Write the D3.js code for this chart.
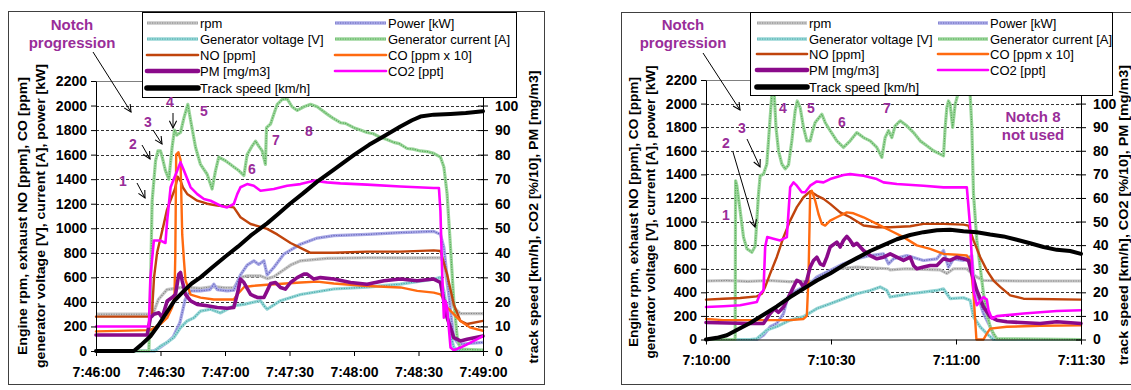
<!DOCTYPE html>
<html>
<head>
<meta charset="utf-8">
<script src="https://cdn.jsdelivr.net/npm/d3@7"></script>
<style>
  html, body { margin: 0; padding: 0; background: #fff; }
  svg { display: block; }
</style>
</head>
<body>
<svg id="chart" width="1131" height="390"></svg>
<script>
// ---------------- data ----------------
// Time is in seconds from the start of each run; left-axis series in their own
// units (0-2200 scale), right-axis series (PM, CO2, speed) on the 0-110 scale.

const primaryTicks = [0, 200, 400, 600, 800, 1000, 1200, 1400, 1600, 1800, 2000, 2200];
const secondaryTicks = [0, 10, 20, 30, 40, 50, 60, 70, 80, 90, 100];

const run1TimeTicks = [0, 30, 60, 90, 120, 150, 180];
const run1TimeLabels = ["7:46:00", "7:46:30", "7:47:00", "7:47:30", "7:48:00", "7:48:30", "7:49:00"];
const run2TimeTicks = [0, 30, 60, 90];
const run2TimeLabels = ["7:10:00", "7:10:30", "7:11:00", "7:11:30"];

const seriesKeys = ["rpm", "power", "voltage", "current", "no", "co", "pm", "co2", "speed"];
const seriesLabels = ["rpm", "Power [kW]", "Generator voltage [V]", "Generator current [A]",
  "NO [ppm]", "CO [ppm x 10]", "PM [mg/m3]", "CO2 [ppt]", "Track speed [km/h]"];
const secondarySeries = ["pm", "co2", "speed"];

// ---- run 1 (7:46 - 7:49) ----
const run1Rpm = [[0,300],[25,300],[26.5,300],[29,420],[33,500],[40.9,520],[48.6,510],[54.8,525],[60,515],[64.1,515],[67.2,600],[70.3,612],[76.5,612],[79.6,590],[82.7,605],[90.5,700],[95.1,735],[107.5,755],[126.1,760],[145,758],[160.2,760],[161.8,720],[164.1,460],[166.4,355],[169.5,305],[180,305]];
const run1Power = [[0,0],[26.9,0],[29.8,30],[33.1,70],[35.9,115],[39,230],[41.4,415],[43.7,490],[48.6,490],[53,500],[54.8,545],[56.4,500],[61,490],[64.1,495],[67.2,620],[70.3,700],[73.4,735],[75.7,705],[78.1,735],[79.6,620],[82.7,680],[87.4,790],[95.1,870],[102.9,920],[110.6,940],[126.1,950],[141.6,965],[157.1,975],[160.2,950],[161.8,845],[163.3,600],[164.9,325],[166.4,110],[168.8,55],[180,70]];
const run1Voltage = [[0,0],[27.4,0],[30,40],[33.1,70],[36.2,110],[39.3,190],[42.4,245],[45.5,270],[48.6,325],[53.3,340],[57.9,310],[61,340],[64.1,370],[68.8,380],[76.5,410],[78.1,370],[79.6,340],[85.8,410],[95.1,460],[110.6,505],[126.1,520],[141.6,545],[157.1,585],[160.2,600],[161.8,490],[163.3,325],[164.9,135],[166.4,30],[168,5],[180,5]];
const run1Current = [[0,0],[24.6,0],[25.3,460],[26.1,1220],[27.7,1550],[28.8,1630],[30,1630],[30.8,1580],[32.3,1470],[33.9,1400],[35.4,1660],[36.5,1800],[37.6,1760],[39.3,1780],[40.9,1900],[42.7,2010],[44,1880],[46.3,1660],[48.6,1520],[51.7,1440],[54,1320],[55.6,1470],[57.1,1580],[60.2,1550],[62.6,1520],[64.1,1500],[66.4,1470],[68.8,1430],[70.3,1600],[72.6,1670],[74.2,1710],[75.7,1670],[77.3,1630],[78.8,1520],[79.3,1820],[81.2,1850],[82.7,1930],[84.3,2010],[86.6,2050],[88.9,2055],[91.2,1990],[93.6,1960],[96.7,1990],[99.8,2010],[102.9,1990],[107.5,1930],[110,1900],[113.7,1860],[116,1855],[119.9,1820],[123,1800],[126.1,1780],[129,1770],[132.3,1740],[135,1725],[138.5,1700],[141,1690],[144.7,1650],[147.5,1645],[150.9,1630],[154,1625],[157.1,1610],[160.2,1580],[161.8,1500],[163.3,1280],[164.9,840],[166.4,410],[168,110],[169.5,15],[180,8]];
const run1NO = [[0,280],[26.1,280],[26.3,390],[27,600],[28.4,800],[29.8,905],[31.6,1040],[33,1150],[34.7,1230],[36.7,1320],[38,1420],[39.5,1380],[40.5,1330],[42.4,1280],[47.1,1225],[51.7,1200],[56.4,1185],[64.1,1170],[67.2,1090],[71.9,1035],[79.6,995],[84.3,950],[90.5,880],[95.1,840],[99.8,800],[110.6,800],[126.1,810],[141.6,810],[157.1,820],[160.2,815],[163.3,625],[166.4,380],[169.5,245],[172.6,220],[180,245]];
const run1CO = [[0,160],[25.3,170],[30,220],[33.1,270],[35.4,355],[36.5,440],[36.9,800],[37.3,1600],[38.3,1620],[39.3,1560],[40.1,950],[40.9,740],[41.6,580],[44,460],[48.6,435],[54.8,420],[64.1,420],[65.7,460],[68.8,520],[72.6,530],[79.6,540],[95.1,558],[102.9,565],[110.6,550],[126.1,530],[141.6,518],[149.4,490],[157.1,476],[160.2,462],[161.8,420],[163.3,355],[166.4,300],[169.5,245],[174.2,190],[180,165]];
const run1PM = [[0,6.5],[23.8,6.5],[25.3,13.6],[26.9,15],[29.2,15.6],[30.8,13.6],[33.1,20.4],[35.4,21.8],[37,23.1],[38.5,31.3],[39.3,32],[40.1,28.6],[41.6,23.1],[44,20.4],[47.1,19],[51.7,18.4],[56.4,17.7],[61,17.4],[64.1,17.7],[65.7,23.1],[67.2,29.3],[68.8,27.9],[71.9,23.1],[75,21.8],[78.1,21.8],[79.6,24.5],[81.2,27.5],[83.5,27.9],[85.8,25.9],[88.1,25.2],[90.5,27.9],[93.6,29.9],[96.7,31.3],[98.2,31.3],[101.3,29.3],[104.4,29.9],[110.6,29.3],[118.4,27.9],[126.1,27.2],[133.9,28.6],[141.6,29.3],[149.4,28.6],[157.1,29.3],[160.2,27.9],[161.8,20.4],[163.3,13.6],[164.9,9.5],[166.4,5.4],[169.5,4.1],[172.6,4.8],[180,6.1]];
const run1CO2 = [[0,10],[24.6,10],[25.3,30],[26.9,45],[30,45],[32.3,44],[33.1,53.1],[34.7,66.7],[36.2,70.1],[37.8,73.5],[39.3,76.9],[40.9,73.5],[44,66.7],[47.1,63.9],[50.2,61.9],[53.3,61.2],[57.9,59.2],[61,58.5],[64.1,59.9],[65.7,63.9],[67.2,66.7],[70.3,68],[73.4,67.3],[76.5,65.3],[82.7,66],[88.9,67.3],[95.1,68],[101.3,69.4],[107.5,68.7],[113.7,68.3],[126.1,67.8],[141.6,67],[157.1,66.4],[159.5,66.4],[160.2,57.1],[161,32],[161.8,13.6],[162.6,20.4],[163.3,17.7],[164.9,1.4],[166.4,0.3],[169.5,1.4],[172.6,2.7],[180,6.1]];
const run1Speed = [[0,0],[17.6,0],[21,2.5],[25.3,6],[29,10.5],[33.1,16],[36.5,20.5],[40.9,24.5],[44.5,27.5],[48.6,30],[54,34],[60.2,38.5],[66,42.5],[71.9,47],[79.6,52],[85,56],[90.2,60],[96,64],[102.9,69],[110,73.5],[120.2,80],[127,84],[133.9,87.5],[141.6,91.5],[147,94],[150.9,95.5],[157.1,96.3],[164.9,96.6],[172,97],[180,97.7]];

// ---- run 2 (7:10 - 7:11:30) ----
const run2Rpm = [[0,496],[5,500],[10,492],[15,500],[20,490],[26.6,496],[29,558],[31.4,600],[36.2,614],[43.8,600],[44.2,590],[48,600],[52.2,594],[56.2,590],[57.8,560],[59.4,600],[62.6,600],[63.8,560],[65,530],[66.6,500],[75,496],[90,496]];
const run2Power = [[0,0],[12.2,0],[13.8,36],[15.4,108],[17,136],[18.6,220],[19.4,332],[20.2,388],[21.8,416],[23.4,446],[25,474],[26.6,530],[29.8,586],[33,642],[36.2,684],[39.4,712],[42.6,726],[43.8,642],[45,684],[48.2,712],[52.2,670],[55.4,684],[57,754],[58.2,614],[59.4,684],[61.8,670],[63.8,712],[64.2,530],[65,388],[66.6,220],[68.2,108],[69,40],[69.8,0],[90,0]];
const run2Voltage = [[0,0],[10.6,0],[12.2,6],[14.6,80],[17,110],[20.2,164],[23.4,194],[26.6,262],[29.8,304],[33,346],[36.2,388],[39.4,416],[41.8,446],[43.4,416],[44.2,360],[45.8,370],[49,388],[52.2,402],[55.4,416],[57,430],[57.8,388],[58.6,346],[61.8,354],[63.4,332],[64.2,192],[65.8,108],[67.4,50],[69,0],[90,0]];
const run2Current = [[0,0],[7,0],[7.1,1346],[7.4,1306],[8.2,1092],[9,868],[9.8,770],[11,740],[11.8,790],[12.2,1008],[12.6,1234],[13,1388],[13.8,1402],[14.6,1488],[15.4,1882],[15.8,2078],[16.2,2200],[16.8,1798],[17.4,1600],[18.2,1488],[19,1446],[19.8,1480],[20.6,1684],[21.4,1938],[21.9,2022],[22.6,1966],[23.4,1798],[24.2,1684],[25,1684],[25.6,1770],[26.2,1840],[27.8,1910],[28.6,1840],[29.8,1770],[31.4,1684],[33,1628],[34.6,1684],[36.2,1754],[37.8,1712],[39.4,1684],[41,1628],[42.2,1544],[43,1712],[43.8,1770],[44.6,1712],[45.4,1812],[46.6,1854],[48.2,1812],[49.8,1754],[51.4,1684],[53,1642],[54.6,1600],[56.2,1572],[57,1558],[57.4,1798],[57.8,1966],[58.2,2022],[58.6,1994],[59.2,1798],[59.8,1994],[60.6,2100],[61.8,2120],[63.4,2080],[63.8,1798],[64.2,1234],[65,840],[65.8,614],[66.6,388],[67.4,220],[68.2,108],[69,50],[69.8,8],[90,0]];
const run2NO = [[0,338],[4.2,346],[8.2,352],[12.2,366],[13.4,388],[14.2,446],[15.4,558],[17,700],[18.6,868],[20.2,1008],[21.8,1122],[23.4,1206],[25,1256],[26.6,1220],[28.2,1192],[29.8,1150],[32.2,1078],[34.6,1036],[37.8,966],[41,952],[44.2,952],[49,960],[52.2,980],[57,980],[61.8,974],[63,966],[64.2,840],[65.8,700],[67.4,586],[69,500],[70.6,446],[73,374],[76.2,346],[90,338]];
const run2CO = [[0,174],[4.2,164],[12.2,164],[20.2,164],[23.4,174],[24.2,200],[24.6,530],[25,1234],[25.4,1260],[26.2,1178],[27,1064],[27.8,980],[28.6,966],[29.8,1008],[31.4,1036],[33.8,1078],[35.4,1070],[37.8,1036],[41,980],[44.2,924],[47.4,868],[50.6,798],[53.8,768],[57,726],[60.2,718],[62.6,712],[63.4,670],[64.2,388],[64.9,0],[66.6,0],[67.4,50],[68.2,92],[72.2,108],[80.2,116],[90,120]];
const run2PM = [[0,7.2],[10.6,6.8],[13.8,6.8],[15.4,11],[16.4,13],[17.4,11.5],[18.6,13.8],[20.2,19.4],[21,22.3],[21.8,25.1],[22.6,24.4],[23.4,22.3],[24.2,25.1],[25,30.7],[25.8,33.5],[26.6,34.9],[27.4,32.1],[28.2,31.4],[29,34.9],[29.8,39.2],[31.4,41.3],[32.2,39.2],[33,42],[33.8,43.7],[34.6,42],[35.4,39.9],[36.2,40.8],[37.8,37.7],[39.4,35.6],[41,34.2],[42.6,34.9],[44.2,36.3],[45.8,34.9],[47.4,33.5],[49,34.9],[49.8,31.4],[50.6,30],[52.2,30.7],[53.8,31.4],[55.4,31.4],[57,34.2],[58.6,33.5],[60.2,34.9],[61.8,34.2],[63,33.5],[63.8,27.9],[65,20.8],[66.6,13.8],[68.2,9.6],[69.8,8.2],[72.2,7.5],[80.2,6.8],[84.2,7.5],[90,6.8]];
const run2CO2 = [[0,13.8],[4.2,14.1],[8.2,14.5],[12.2,15.9],[13,19.4],[13.8,20.8],[14.2,39.2],[14.7,43.4],[16.2,42.7],[17.8,42],[19.4,43.4],[20.2,64.5],[21,66.6],[21.8,65.2],[23,62.4],[23.8,62.4],[25,65.2],[26.6,67],[28.2,66.6],[29.8,68],[33,69.7],[34.6,70.1],[37.8,69.4],[41,68],[42.6,66.6],[45.8,65.9],[52.2,65.2],[57,64.5],[62.6,64.5],[63.4,47.6],[64.2,20.8],[65,14.5],[66.6,18],[67.4,16.9],[67.8,12.4],[68.6,8.9],[69.8,9.9],[76.2,11],[84.2,12.1],[90,12.4]];
const run2Speed = [[0,0],[2.6,0.7],[5,1.8],[7.4,4],[10.6,7],[13.8,10.5],[17,14],[20.2,18],[23.4,21.5],[26.6,25],[29.8,28],[33,31.5],[36.2,34.5],[39.4,37.5],[42.6,40],[45.8,42.5],[49,44.3],[52.2,45.5],[55.4,46.3],[58.6,46.5],[61.8,45.9],[65,45.5],[68.2,44.5],[71.4,43.7],[74.6,42.3],[77.8,40.8],[81,39.2],[84.2,38],[87.4,37.5],[90,36.3]];

// ---------------- styling ----------------
const FONT = "'Liberation Sans', Arial, Helvetica, sans-serif";
const NOTE = "#992d99";
const lineStyles = {
  rpm:     { base: "#c6c6c6", dot: "#868686", w: 3.2, hatch: true },
  power:   { base: "#aaaae6", dot: "#6464bc", w: 3.2, hatch: true },
  voltage: { base: "#98d6d6", dot: "#42a8a8", w: 3.2, hatch: true },
  current: { base: "#9cd69c", dot: "#54aa54", w: 3.2, hatch: true },
  no:      { color: "#c0440c", w: 2.4 },
  co:      { color: "#ff6a10", w: 2.4 },
  pm:      { color: "#8a0a8a", w: 3.6, legendW: 4.6 },
  co2:     { color: "#ff00ff", w: 2.6 },
  speed:   { color: "#000000", w: 4,   legendW: 5.6 }
};

const svg = d3.select("#chart");

const defs = svg.append("defs");
defs.append("marker")
  .attr("id", "vhead").attr("viewBox", "0 0 10 10")
  .attr("refX", 9).attr("refY", 5)
  .attr("markerWidth", 9).attr("markerHeight", 9)
  .attr("markerUnits", "userSpaceOnUse").attr("orient", "auto")
  .append("path").attr("d", "M1,1 L9,5 L1,9")
  .attr("fill", "none").attr("stroke", "#000").attr("stroke-width", 1.2);

function strokeLine(sel, key, wOverride) {
  const s = lineStyles[key];
  const w = wOverride || s.w;
  if (s.hatch) {
    sel.append("path").attr("d", sel.datum().d)
      .attr("fill", "none").attr("stroke", s.base).attr("stroke-width", w)
      .attr("stroke-linejoin", "round");
    sel.append("path").attr("d", sel.datum().d)
      .attr("fill", "none").attr("stroke", s.dot).attr("stroke-width", 1.1)
      .attr("stroke-dasharray", "1.2,1.3").attr("stroke-linejoin", "round");
  } else {
    sel.append("path").attr("d", sel.datum().d)
      .attr("fill", "none").attr("stroke", s.color).attr("stroke-width", w)
      .attr("stroke-linejoin", "round").attr("stroke-linecap", "round");
  }
}

function vText(g, x, cy, str, len, size) {
  g.append("text")
    .attr("transform", `translate(${x},${cy}) rotate(-90)`)
    .attr("text-anchor", "middle").attr("dy", "0.35em")
    .attr("textLength", len).attr("lengthAdjust", "spacingAndGlyphs")
    .style("font", `bold ${size}px ${FONT}`).attr("fill", "#000")
    .text(str);
}

function note(g, x, y, str, size) {
  g.append("text").attr("x", x).attr("y", y)
    .attr("text-anchor", "middle").attr("dy", "0.35em")
    .style("font", `bold ${size || 14}px ${FONT}`).attr("fill", NOTE)
    .text(str);
}

function arrow(g, a) {
  g.append("line")
    .attr("x1", a[0]).attr("y1", a[1]).attr("x2", a[2]).attr("y2", a[3])
    .attr("stroke", "#000").attr("stroke-width", 1)
    .attr("marker-end", "url(#vhead)");
}

function drawPanel(p, data) {
  const g = svg.append("g");

  // outer chart frame
  g.append("rect")
    .attr("x", p.frame[0] + 0.5).attr("y", p.frame[1] + 0.5)
    .attr("width", p.frame[2]).attr("height", p.frame[3])
    .attr("fill", "none").attr("stroke", "#404040").attr("stroke-width", 1);

  const x = d3.scaleLinear().domain([0, p.tMax]).range([p.x0, p.x1]);
  const yL = d3.scaleLinear().domain([0, 2200]).range([p.yBot, p.yTop]);
  const yR = d3.scaleLinear().domain([0, 110]).range([p.yBot, p.yTop]);

  // dashed horizontal gridlines
  g.append("g").selectAll("line")
    .data(primaryTicks.filter(v => v > 0 && v < 2200))
    .join("line")
    .attr("x1", p.x0).attr("x2", p.x1)
    .attr("y1", d => Math.round(yL(d)) + 0.5).attr("y2", d => Math.round(yL(d)) + 0.5)
    .attr("stroke", "#333").attr("stroke-width", 1).attr("stroke-dasharray", "3,2");

  // plot-area top edge
  g.append("line")
    .attr("x1", p.x0).attr("x2", p.x1)
    .attr("y1", Math.round(p.yTop) + 0.5).attr("y2", Math.round(p.yTop) + 0.5)
    .attr("stroke", "#808080");

  // series
  const lineL = d3.line().x(d => x(d[0])).y(d => yL(d[1]));
  const lineR = d3.line().x(d => x(d[0])).y(d => yR(d[1]));
  seriesKeys.forEach(k => {
    const gen = secondarySeries.includes(k) ? lineR : lineL;
    const sg = g.append("g").datum({ d: gen(data[k]) });
    strokeLine(sg, k);
  });

  // axes
  const tickFont = sel => sel.selectAll("text")
    .style("font", `bold 14px ${FONT}`).attr("fill", "#000");

  const axL = g.append("g").attr("transform", `translate(${p.x0},0)`)
    .call(d3.axisLeft(yL).tickValues(primaryTicks).tickFormat(d3.format("d"))
      .tickSize(5).tickSizeOuter(0).tickPadding(4));
  tickFont(axL);

  const axR = g.append("g").attr("transform", `translate(${p.x1},0)`)
    .call(d3.axisRight(yR).tickValues(secondaryTicks).tickFormat(d3.format("d"))
      .tickSize(5).tickSizeOuter(0).tickPadding(p.rPad));
  axR.selectAll(".tick line").attr("x1", -5);
  tickFont(axR);

  const axB = g.append("g").attr("transform", `translate(0,${p.yBot})`)
    .call(d3.axisBottom(x).tickValues(p.timeTicks).tickFormat((d, i) => p.timeLabels[i])
      .tickSize(5).tickSizeOuter(0).tickPadding(p.bPad));
  tickFont(axB);

  [axL, axR, axB].forEach(a => {
    a.select(".domain").attr("stroke", "#000");
    a.selectAll(".tick line").attr("stroke", "#000");
  });

  // axis titles
  vText(g, p.lt[0], p.lt[2], "Engine rpm, exhaust NO [ppm], CO [ppm]", p.lt[3], 13);
  vText(g, p.lt[1], p.lt[2], "generator voltage [V], current [A], power [kW]", p.lt[4], 13);
  vText(g, p.rt[0], p.rt[1], "track speed [km/h], CO2 [%/10], PM [mg/m3]", p.rt[2], 13);

  // legend
  const L = p.legend;
  const lg = g.append("g");
  lg.append("rect").attr("x", L.x + 0.5).attr("y", L.y + 0.5)
    .attr("width", L.w).attr("height", L.h)
    .attr("fill", "#fff").attr("stroke", "#000").attr("stroke-width", 1);
  seriesKeys.forEach((k, i) => {
    const col = i === 8 ? 0 : i % 2;
    const row = Math.floor(i / 2);
    const sx = col === 0 ? L.c1 : L.c2;
    const yy = L.rows[row];
    const s = lineStyles[k];
    const seg = d3.line()([[sx, yy], [sx + L.sw, yy]]);
    const sg = lg.append("g").datum({ d: seg });
    strokeLine(sg, k, s.legendW || (s.hatch ? 3.4 : 2.6));
    lg.append("text").attr("x", sx + L.sw + 2).attr("y", yy).attr("dy", "0.36em")
      .style("font", `13px ${FONT}`).attr("fill", "#000")
      .text(seriesLabels[i]);
  });

  // notch annotations
  note(g, p.title[0], p.title[1], "Notch", 15);
  note(g, p.title[0], p.title[1] + 18, "progression", 15);
  p.arrows.forEach(a => arrow(g, a));
  p.notes.forEach(n => note(g, n[0], n[1], n[2], n[3]));
}

const run1 = {
  rpm: run1Rpm, power: run1Power, voltage: run1Voltage, current: run1Current,
  no: run1NO, co: run1CO, pm: run1PM, co2: run1CO2, speed: run1Speed
};
const run2 = {
  rpm: run2Rpm, power: run2Power, voltage: run2Voltage, current: run2Current,
  no: run2NO, co: run2CO, pm: run2PM, co2: run2CO2, speed: run2Speed
};

drawPanel({
  frame: [8, 11, 536, 373],
  x0: 96, x1: 483, yTop: 81, yBot: 351, tMax: 180,
  timeTicks: run1TimeTicks, timeLabels: run1TimeLabels,
  rPad: 7, bPad: 11,
  lt: [22, 40, 216, 278, 304],
  rt: [533, 217, 293],
  legend: { x: 142, y: 12, w: 374, h: 85, c1: 147, c2: 335, sw: 51, rows: [23, 39, 55, 71, 88] },
  title: [72, 25],
  arrows: [[93, 52, 131, 112], [137, 183, 145, 198], [142, 145, 150, 159], [153, 130, 162, 144], [173, 113, 173, 128]],
  notes: [[123, 181, "1"], [133, 144, "2"], [148, 122, "3"], [170, 102, "4"], [204, 111, "5"],
          [252, 169, "6"], [276, 140, "7"], [309, 131, "8"]]
}, run1);

drawPanel({
  frame: [621, 12, 540, 372],
  x0: 706, x1: 1081, yTop: 80, yBot: 339.5, tMax: 90,
  timeTicks: run2TimeTicks, timeLabels: run2TimeLabels,
  rPad: 7, bPad: 11,
  lt: [633, 650, 212, 270, 293],
  rt: [1123, 215, 300],
  legend: { x: 750, y: 12, w: 362, h: 83, c1: 757, c2: 938, sw: 50, rows: [23, 39, 54, 70, 87] },
  title: [683, 25],
  arrows: [[703, 53, 740, 110], [733, 152, 755, 227], [747, 139, 760, 167]],
  notes: [[726, 215, "1"], [726, 143, "2"], [742, 128, "3"], [783, 108, "4"], [811, 108, "5"],
          [842, 122, "6"], [887, 108, "7"], [1033, 117, "Notch 8", 15], [1033, 135, "not used", 15]]
}, run2);
</script>
</body>
</html>
